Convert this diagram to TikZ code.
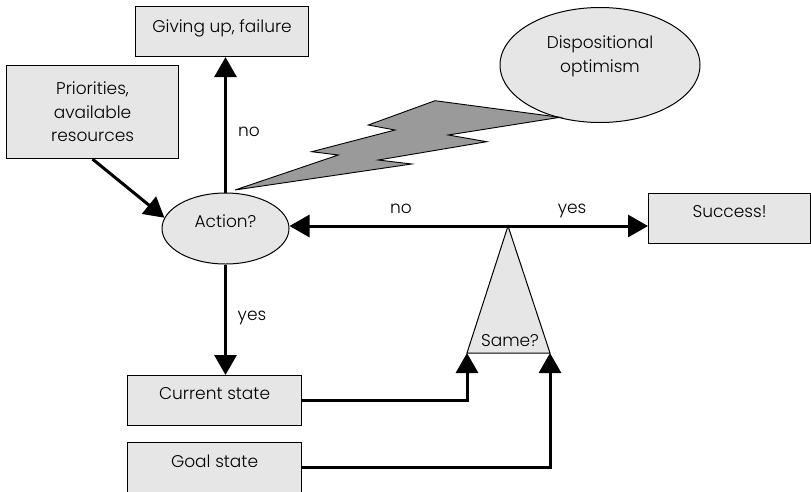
\documentclass[tikz,border=0pt]{standalone}
\usepackage{fontspec}
\setmainfont{Poppins}[UprightFont=* Light]
\usetikzlibrary{arrows.meta,shapes.geometric,calc}
\definecolor{boxgray}{HTML}{E6E6E6}
\definecolor{boltgray}{HTML}{9A9A9A}
\begin{document}
\begin{tikzpicture}[x=1pt,y=-1pt,
  txt/.style={font=\fontsize{17}{23.5}\selectfont},
  box/.style={txt, draw=black, fill=boxgray, line width=1.1pt, inner xsep=0pt, inner ysep=0pt, anchor=north west},
  ell/.style={txt, ellipse, draw=black, fill=boxgray, line width=1pt, inner sep=0pt},
  arr/.style={line width=3pt, -{Triangle[length=20pt,width=22pt]}},
  lbl/.style={txt, anchor=base, inner sep=0pt}]
\useasboundingbox (0,0) rectangle (811,491);
% boxes
\node[box, minimum width=173pt, text height=26pt, text depth=24pt] (give) at (135,6) {Giving up, failure};
\node[box, minimum width=172pt, minimum height=93pt, align=center] (pri) at (6,65) {Priorities,\\available\\resources};
\node[box, minimum width=162pt, text height=24pt, text depth=26pt] (suc) at (648,193) {Success!};
\node[box, minimum width=174pt, text height=24pt, text depth=26pt] (cur) at (127,375) {Current state};
\node[box, minimum width=174pt, text height=25pt, text depth=25pt] (goal) at (127,442) {Goal state};
% ellipses
\node[ell, minimum width=127pt, minimum height=71pt, text height=12pt, text depth=15pt] (act) at (225.5,228.5) {Action?};
\node[ell, minimum width=200pt, minimum height=115pt,
  label={[txt, align=center, yshift=8.5pt]center:Dispositional\\optimism}] (opt) at (600,65) {};
% lightning bolt
\draw[fill=boltgray, line width=0.9pt, line join=miter]
  (235,190) -- (338.3,155) -- (311.7,151.7) -- (395,130) -- (368.3,125) -- (435,100.7)
  -- (560,117.3) -- (448.3,135) -- (486.7,141.7) -- (378.3,160) -- (411.7,164) -- cycle;
% comparison triangle
\coordinate (apex) at (508,226);
\coordinate (bl) at (467,353);
\coordinate (br) at (550,353);
\draw[fill=boxgray, line width=1pt, line join=miter] (apex) -- (br) -- (bl) -- cycle;
\node[lbl] (same) at (510,346) {Same?};
% labels
\node[lbl] (lno1) at (249,136) {no};
\node[lbl] (lyes1) at (252,320) {yes};
\node[lbl] (lno2) at (401,213) {no};
\node[lbl] (lyes2) at (572,213) {yes};
% connectors
\draw[arr] (pri.south) -- (act.170);
\draw[arr] (act.north) -- (act.north |- give.south);
\draw[arr] (act.south) -- (act.south |- cur.north);
\draw[arr] (apex) -- (apex -| act.east);
\draw[arr] (apex) -- (apex -| suc.west);
\draw[arr] (cur.east) -| (bl);
\draw[arr] (goal.east) -| (br);
\end{tikzpicture}
\end{document}
